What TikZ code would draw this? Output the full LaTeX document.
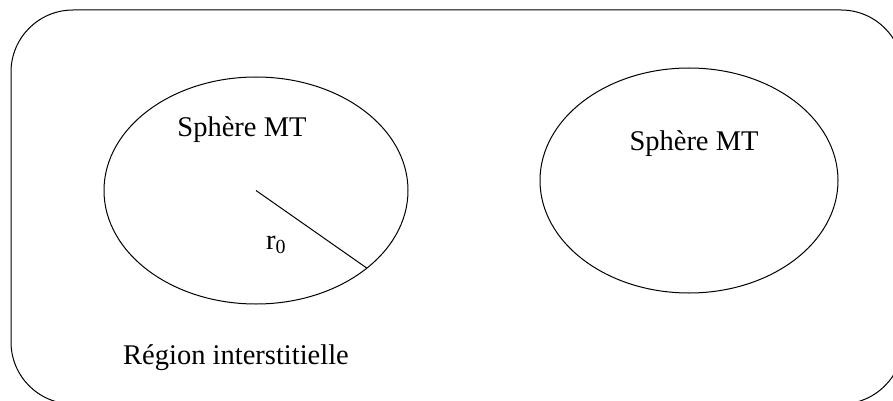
\documentclass[tikz,border=0pt]{standalone}
\usepackage{fontspec}
\setmainfont{Liberation Serif}
\usetikzlibrary{shapes.geometric}
\begin{document}
\begin{tikzpicture}[x=1pt,y=-1pt,
  sphere/.style={ellipse, draw, line width=1pt, inner sep=0pt, outer sep=0pt},
  lbl/.style={font=\fontsize{28.5}{32}\selectfont, inner sep=0pt},
  edge/.style={line width=1pt}]
  \useasboundingbox (0,0) rectangle (893,401);
  % interstitial region frame
  \draw[edge, rounded corners=62pt] (11,10) rectangle (903,404);
  % muffin-tin spheres
  \node[sphere, minimum width=304pt, minimum height=227pt] (s1) at (256,190.5) {};
  \node[sphere, minimum width=298pt, minimum height=225pt] (s2) at (689,180.5) {};
  % labels
  \node[lbl] (t1) at (242,130) {Sphère MT};
  \node[lbl] (t2) at (694,144) {Sphère MT};
  \node[lbl] (t3) at (236,358) {Région interstitielle};
  \node[lbl] (r0) at (276,245) {r\textsubscript{0}};
  % radius of the sphere
  \draw[edge] (s1.center) -- (s1.-35.5);
\end{tikzpicture}
\end{document}
